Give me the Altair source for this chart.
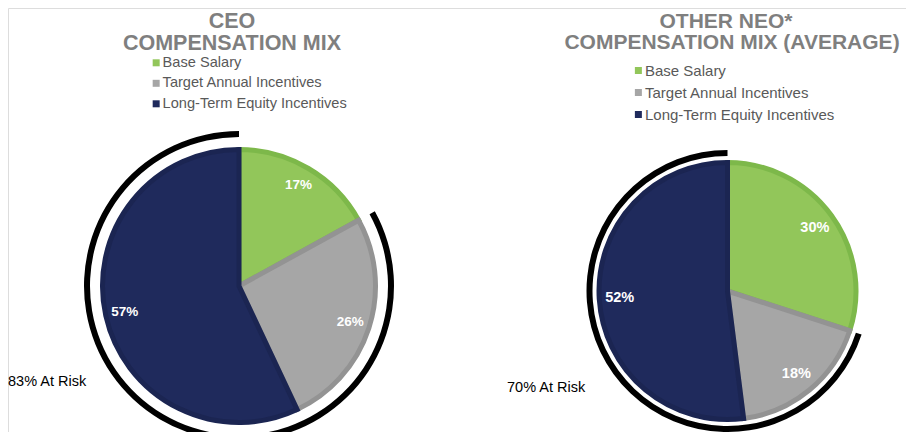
import altair as alt
import pandas as pd

categories = ["Base Salary", "Target Annual Incentives", "Long-Term Equity Incentives"]
ceo_values = [17, 26, 57]
neo_values = [30, 18, 52]
ceo_at_risk = 83
neo_at_risk = 70
ceo_title = ["CEO", "COMPENSATION MIX"]
neo_title = ["OTHER NEO*", "COMPENSATION MIX (AVERAGE)"]

fill_colors = ["#92c65a", "#a6a6a6", "#1f2a5c"]
edge_colors = ["#7db84a", "#939393", "#1b2552"]
title_color = "#7f7f7f"
legend_color = "#595959"
FONT = "Liberation Sans"
# square legend symbol, nudged right towards its label
SQUARE_PATH = "M-0.75,-1H1.25V1H-0.75Z"


def pie_df(values):
    return pd.DataFrame({
        "category": categories,
        "value": values,
        "order": list(range(len(categories))),
        "label": [f"{v}%" for v in values],
    })


def risk_df(at_risk):
    return pd.DataFrame({"start": [100 - at_risk], "end": [100],
                         "label": [f"{at_risk}% At Risk"]})


theta_scale = alt.Scale(domain=[0, 100])


def pie_layers(values, at_risk, cx, cy, r, lab_r, arc_r2, arc_r, lx, ly, lfs,
               rowpad, lab_fs, risk_x, risk_y):
    df = pie_df(values)
    base = alt.Chart(df).encode(
        theta=alt.Theta("value:Q", stack=True, scale=theta_scale),
        order=alt.Order("order:Q"),
    )
    arcs = base.mark_arc(radius=r, strokeWidth=5, strokeJoin="miter").encode(
        x=alt.value(cx), y=alt.value(cy),
        color=alt.Color(
            "category:N", sort=categories,
            scale=alt.Scale(domain=categories, range=fill_colors),
            legend=alt.Legend(
                title=None, orient="none", legendX=lx, legendY=ly,
                symbolType=SQUARE_PATH, symbolSize=49, symbolStrokeWidth=0,
                labelFontSize=lfs, labelFont=FONT, labelColor=legend_color,
                rowPadding=rowpad, padding=0, labelOffset=0, labelLimit=400,
            ),
        ),
        stroke=alt.Stroke("category:N",
                          scale=alt.Scale(domain=categories, range=edge_colors),
                          legend=None),
    )
    labels = base.mark_text(radius=lab_r, font=FONT, fontWeight="bold",
                            fontSize=lab_fs, color="white").encode(
        x=alt.value(cx), y=alt.value(cy), text="label:N")
    rdf = risk_df(at_risk)
    risk_arc = alt.Chart(rdf).mark_arc(radius=arc_r, radius2=arc_r2,
                                       color="black").encode(
        x=alt.value(cx), y=alt.value(cy),
        theta=alt.Theta("start:Q", scale=theta_scale),
        theta2="end:Q",
    )
    risk_text = alt.Chart(rdf).mark_text(
        align="left", baseline="alphabetic", font=FONT, fontSize=14.5,
        color="black").encode(x=alt.value(risk_x), y=alt.value(risk_y),
                              text="label:N")
    return [arcs, labels, risk_arc, risk_text]


def title_line(text, x, y, size):
    return alt.Chart(pd.DataFrame({"t": [text]})).mark_text(
        align="center", baseline="alphabetic", font=FONT, fontWeight="bold",
        fontSize=size, color=title_color).encode(
        x=alt.value(x), y=alt.value(y), text="t:N")


ceo = pie_layers(ceo_values, ceo_at_risk, 231, 278, 136.5, 117, 149, 155,
                 140, 47.5, 14.6, 5.5, 13.5, 0, 378)
neo = pie_layers(neo_values, neo_at_risk, 719.5, 283, 128.5, 108, 135, 141,
                 622, 55, 15, 6, 14.5, 499, 384)

titles = [
    title_line(ceo_title[0], 224, 19.5, 21.5),
    title_line(ceo_title[1], 224, 42, 21.5),
    title_line(neo_title[0], 718, 19.5, 21),
    title_line(neo_title[1], 724, 41, 21),
]

chart = alt.layer(ceo[0], neo[0], ceo[1], neo[1], ceo[2], neo[2], ceo[3], neo[3],
                  *titles).resolve_scale(
    color="independent", stroke="independent"
).properties(
    width=898, height=424, padding=0,
    autosize=alt.AutoSizeParams(type="none"),
).configure_view(stroke=None).configure(background="white")

chart.save("out.html", embed_options={"renderer": "svg", "actions": False})
